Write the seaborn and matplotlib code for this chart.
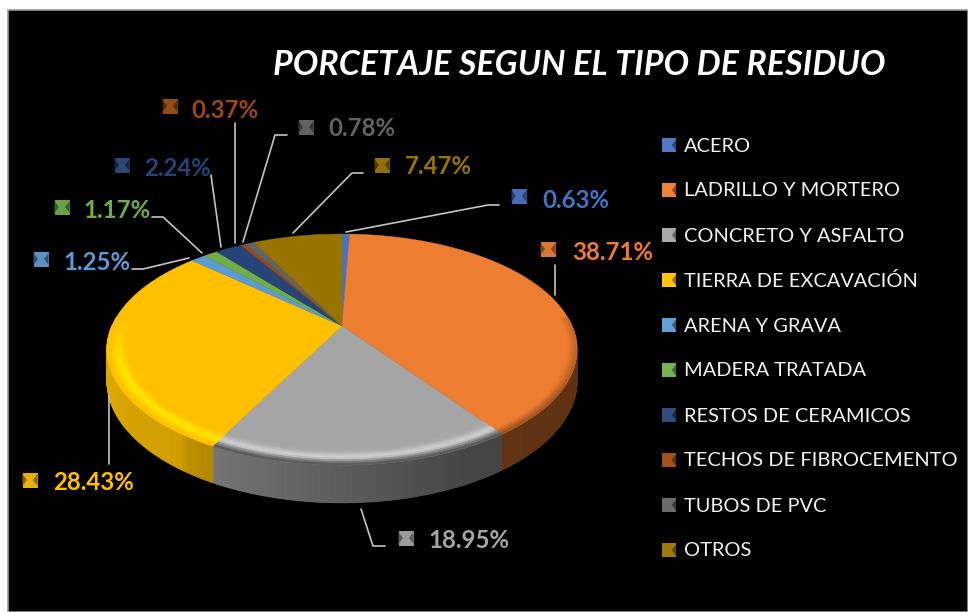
import numpy as np
import matplotlib
matplotlib.use("Agg")
import matplotlib.pyplot as plt
import seaborn as sns
from matplotlib.collections import PolyCollection

title = "PORCETAJE SEGUN EL TIPO DE RESIDUO"
categories = ["ACERO", "LADRILLO Y MORTERO", "CONCRETO Y ASFALTO", "TIERRA DE EXCAVACIÓN",
              "ARENA Y GRAVA", "MADERA TRATADA", "RESTOS DE CERAMICOS",
              "TECHOS DE FIBROCEMENTO", "TUBOS DE PVC", "OTROS"]
percentages = [0.63, 38.71, 18.95, 28.43, 1.25, 1.17, 2.24, 0.37, 0.78, 7.47]
hex_colors = ["#4472C4", "#ED7D31", "#A5A5A5", "#FFC000", "#5B9BD5",
              "#70AD47", "#264478", "#9E480E", "#636363", "#997300"]

sns.set_theme(style="white")
plt.rcParams["font.family"] = ["Lato", "DejaVu Sans"]
palette = sns.color_palette(hex_colors)

fig = plt.figure(figsize=(9.68, 6.12), dpi=100, facecolor="white")
ax = fig.add_axes([0, 0, 1, 1])
wedges, _ = ax.pie(percentages, colors=palette, startangle=90, counterclock=False, frame=True)
angles = [(w.theta1, w.theta2) for w in wedges]
for w in wedges:
    w.remove()
ax.set_aspect("auto")
ax.set_xlim(0, 968)
ax.set_ylim(612, 0)
ax.set_xticks([])
ax.set_yticks([])
for s in ax.spines.values():
    s.set_visible(False)
ax.set_facecolor("white")
ax.fill([8, 968, 968, 8], [10, 10, 612, 612], facecolor="black", edgecolor="#9a9a9a", lw=1.2, zorder=0)

CX, CY, A, B, K = 342.0, 326.0, 230.0, 110.7, 0.2035


def project(r, t):
    """Tilted-disc projection of polar pie coordinates to image pixels."""
    t = np.asarray(t, dtype=float)
    d = (t - 270 + 180) % 360 - 180
    amp = np.where(d < 0, 2.4, 3.3)
    t = t - np.where(np.abs(d) < 60, amp * np.sin(np.radians(3 * d)), 0.0)
    x, y = r * np.cos(np.radians(t)), r * np.sin(np.radians(t))
    w = 1 + K * y
    return CX + A * x / w, CY - B * y / w, w


def mix(c, other, f):
    return tuple((1 - f) * a + f * b for a, b in zip(c, other))


# side wall
polys, cols = [], []
for (t1, t2), c in zip(angles, palette):
    ts = np.append(np.arange(t1, t2, 0.5), t2)
    for a, b in zip(ts[:-1], ts[1:]):
        m = 0.5 * (a + b) % 360
        if not (180 <= m <= 360):
            continue
        xa, ya, wa = project(1, a)
        xb, yb, wb = project(1, b)
        da, db = 30 / wa, 30 / wb
        polys.append([(xa, ya), (xb, yb), (xb, yb + db), (xa, ya + da)])
        s = (m - 180) / 180  # 0 at left, 1 at right
        shade = np.interp(s, [0, 0.29, 0.30, 0.67, 0.68, 1], [0.9, 0.82, 0.74, 0.42, 0.42, 0.38])
        cols.append(tuple(v * shade for v in c))
ax.add_collection(PolyCollection(polys, facecolors=cols, edgecolors=cols, linewidths=0.8, zorder=2))

# top face
for (t1, t2), c in zip(angles, palette):
    ts = np.linspace(t1, t2, max(int(t2 - t1) * 2, 4))
    px, py, _w = project(1, ts)
    ax.fill(np.r_[CX, px], np.r_[CY, py], facecolor=c, edgecolor=c, lw=0.3, zorder=3)

# bevel on the front rim: orange, grey and yellow slices only
polys, cols = [], []
radii = np.linspace(0.90, 1.0, 11)
for idx, ((t1, t2), c) in enumerate(zip(angles, palette)):
    if idx not in (1, 2, 3):
        continue
    ts = np.append(np.arange(t1, t2, 0.75), t2)
    for a, b in zip(ts[:-1], ts[1:]):
        m = 0.5 * (a + b) % 360
        if not (175 <= m <= 360 or m < 5):
            continue
        fade = np.clip((m - 175) / 25, 0, 1) if m >= 175 else 1
        s = (m - 180) / 180 if m >= 175 else 1
        for r0, r1 in zip(radii[:-1], radii[1:]):
            u = (0.5 * (r0 + r1) - 0.90) / 0.10
            glow = np.exp(-((u - 0.55) / 0.24) ** 2)
            edge = np.clip((u - 0.62) / 0.38, 0, 1)
            if idx == 3:
                col = mix(c, (1.0, 0.90, 0.0), fade * glow)
            elif idx == 2:
                col = mix(mix(c, (1, 1, 1), 0.45 * glow), (0.2, 0.2, 0.2), 0.75 * edge)
            else:
                col = mix(c, (0.25, 0.12, 0.03), 0.55 * edge * (0.4 + 0.6 * (1 - s) / 0.32))
            xa0, ya0, _ = project(r0, a)
            xb0, yb0, _ = project(r0, b)
            xa1, ya1, _ = project(r1, a)
            xb1, yb1, _ = project(r1, b)
            polys.append([(xa0, ya0), (xb0, yb0), (xb1, yb1), (xa1, ya1)])
            cols.append(col)
ax.add_collection(PolyCollection(polys, facecolors=cols, edgecolors=cols, linewidths=0.5, zorder=4))


def swatch(x, y, c, size=7.5, both=True):
    ax.fill([x - size, x + size, x + size, x - size], [y - size, y - size, y + size, y + size],
            facecolor=mix(c, (1, 1, 1), 0.05), edgecolor="none", zorder=6)
    dark = tuple(v * 0.6 for v in c)
    ax.fill([x + size, x + size * 0.4, x + size], [y - size * 0.8, y, y + size * 0.8],
            facecolor=dark, edgecolor="none", zorder=7)
    if both:
        ax.fill([x - size, x - size * 0.4, x - size], [y - size * 0.8, y, y + size * 0.8],
                facecolor=dark, edgecolor="none", zorder=7)


# legend
legend_y = np.arange(146, 146 + 45 * len(categories), 45)
for name, c, y in zip(categories, palette, legend_y):
    swatch(669, y - 1, c, size=7, both=False)
    ax.text(684, y, name, color="#f2f2f2", fontsize=14.45, va="center", ha="left", zorder=8)

# data labels: marker, text position, leader line
label_layout = [
    ((519, 196), (542, 200), [(346, 232), (488, 205), (499, 205)]),
    ((548, 249), (572, 252), [(555, 295), (555, 265)]),
    ((406, 538), (428, 541), [(361, 509), (373, 546), (385, 546)]),
    ((30, 480), (53, 483), [(109, 395), (109, 464)]),
    ((41, 259), (63, 262), [(189, 258), (143, 269), (132, 269)]),
    ((62, 207), (83, 210), [(202, 253), (163, 217), (152, 217)]),
    ((122, 165), (144, 169), [(221, 247), (211, 175)]),
    ((170, 106), (191, 110), [(235, 243), (235, 123)]),
    ((306, 127), (328, 129), [(243, 242), (275, 135), (287, 135)]),
    ((382, 165), (405, 167), [(293, 233), (352, 173), (363, 173)]),
]
for pct, c, (mk, tx, line) in zip(percentages, palette, label_layout):
    swatch(mk[0], mk[1], mix(c, (0, 0, 0), 0.1), size=7.5)
    ax.text(tx[0], tx[1], f"{pct:.2f}%", color=c, fontsize=17.3, fontweight="bold",
            va="center", ha="left", zorder=8)
    xs, ys = zip(*line)
    ax.plot(xs, ys, color="#c4c4c4", lw=1.2, zorder=5)

ax.text(273, 65, title, color="white", fontsize=24.5, fontweight="bold", fontstyle="italic",
        va="center", ha="left", zorder=8)

fig.savefig("out.png", dpi=100, facecolor="white")
